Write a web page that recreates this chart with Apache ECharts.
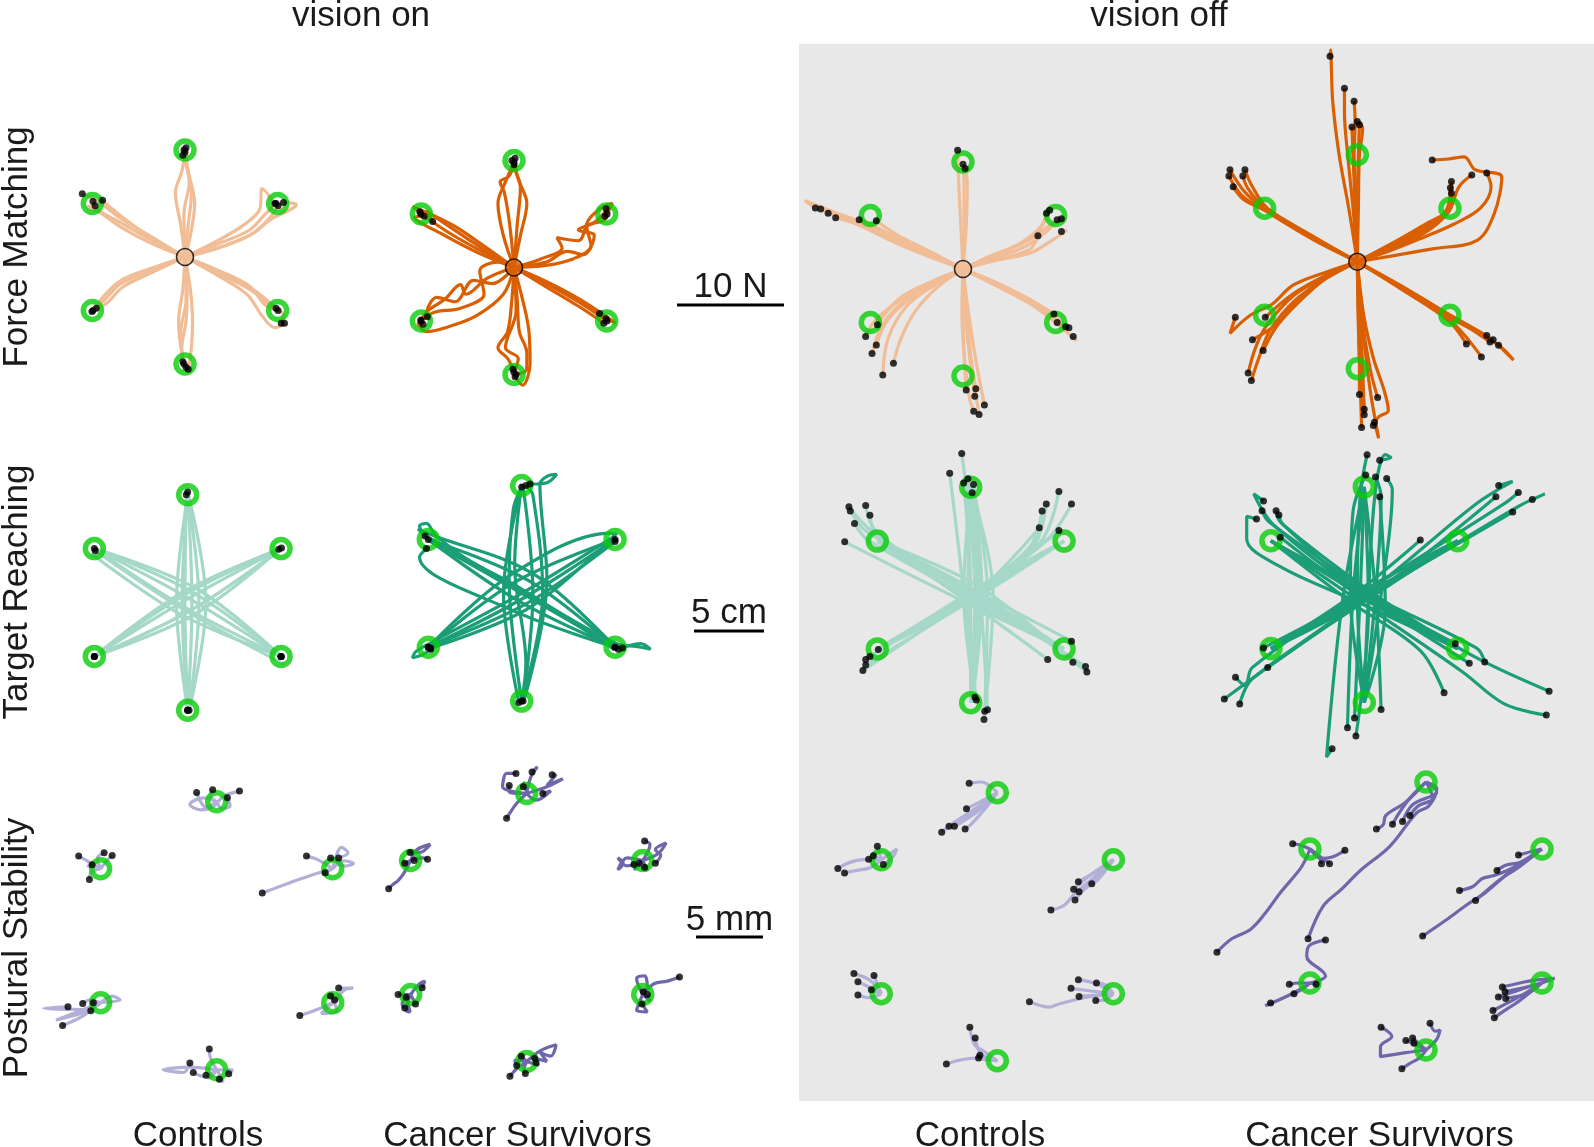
<!DOCTYPE html>
<html><head><meta charset="utf-8">
<script src="https://cdn.jsdelivr.net/npm/echarts@6/dist/echarts.min.js"></script>
<style>html,body{margin:0;padding:0;background:#fff}#c{width:1594px;height:1147px}</style>
</head><body><div id="c"></div>
<script>
// ---------- DATA ----------
const columnLabels = ['Controls', 'Cancer Survivors', 'Controls', 'Cancer Survivors'];
const headerLabels = ['vision on', 'vision off'];
const rowLabels = ['Force Matching', 'Target Reaching', 'Postural Stability'];
const scaleBars = [{len: 10, label: '10 N'}, {len: 5, label: '5 cm'}, {len: 5, label: '5 mm'}];

const forceTargets = [[0,10],[8.66,5],[8.66,-5],[0,-10],[-8.66,-5],[-8.66,5]];
const reachTargets = [[0,7.7],[6.67,3.85],[6.67,-3.85],[0,-7.7],[-6.67,-3.85],[-6.67,3.85]];
const postTargets  = [[0,10],[8.66,5],[8.66,-5],[0,-10],[-8.66,-5],[-8.66,5]];

// Force matching (N)
const forceCtrlOn = [
 [[0,0],[-0.4,3],[-0.9,6],[-0.3,8],[0,9.8]],
 [[0,0],[0.3,3],[0.6,6],[0.2,8.5],[0.1,10.2]],
 [[0,0],[-0.1,4],[0.4,7],[-0.2,9.5]],
 [[0,0],[0.5,2],[0.9,5],[0.3,8],[-0.1,10]],
 [[0,0],[3,1.2],[6,2.5],[7.5,4],[8.5,5]],
 [[0,0],[3,0.8],[6,2],[8,3.5],[10.4,4.9],[9.2,5.1]],
 [[0,0],[3,1.5],[5.5,3],[7,4.5],[7.2,6.4],[8.4,5]],
 [[0,0],[3.5,1],[6.5,2.3],[8.2,4],[8.7,4.8]],
 [[0,0],[3,-1.5],[6,-3],[8,-4.5],[8.7,-5]],
 [[0,0],[3,-1.2],[6,-2.7],[7.5,-4.5],[9.2,-5.4],[9,-6.2]],
 [[0,0],[3.2,-1.8],[5.8,-3.5],[7.2,-5.5],[8.4,-6.6],[9.3,-6.2]],
 [[0,0],[3,-1.4],[6.3,-3],[8.5,-4.8]],
 [[0,0],[0.2,-3],[0.1,-6],[-0.3,-8.5],[-0.1,-10]],
 [[0,0],[-0.2,-3],[-0.6,-6],[-0.3,-9],[0.1,-10.3]],
 [[0,0],[0.5,-3],[0.7,-6],[0.6,-8.5],[0.3,-10.5]],
 [[0,0],[0.1,-4],[-0.4,-7],[-0.2,-9.8]],
 [[0,0],[-3,-1.2],[-6,-2.5],[-7.5,-4],[-8.6,-5]],
 [[0,0],[-3,-1],[-6,-2.2],[-7.8,-3.9],[-8.3,-4.8]],
 [[0,0],[-3.2,-1.5],[-5.8,-2.8],[-7.3,-4.3],[-8.7,-5.1]],
 [[0,0],[-3,1.5],[-6,3.2],[-8.3,4.5],[-8.6,5.2]],
 [[0,0],[-3,1.8],[-6,3.6],[-8,5.1],[-9.6,5.9]],
 [[0,0],[-3,1.2],[-6,2.8],[-8,4.2],[-9.1,4.7],[-8.4,4.8]],
 [[0,0],[-3.5,2],[-6.2,4],[-7.4,5],[-7.7,5.3]]
];
const forceCsOn = [
 [[0,0],[-1,3],[-1.5,6],[-0.8,8],[0,9.8]],
 [[0,0],[0.6,3],[1.2,6],[0.5,8],[-0.2,10]],
 [[0,0],[-0.4,4],[-0.9,7],[-1.3,8],[-0.5,8.5],[0,9.6]],
 [[0,0],[0.3,4],[0.6,7.5],[0.2,9],[0.1,10.2]],
 [[0,0],[3,0.5],[5,1.5],[6.5,1.2],[7.5,3],[6,3.5],[7.5,4.2],[8.8,5.5],[8.5,4.8]],
 [[0,0],[2.5,0.8],[4.5,1.8],[4,2.8],[6,2.5],[7,4.5],[8.2,5.6],[9.2,6],[8.7,5]],
 [[0,0],[3,0.2],[5.5,0.8],[7.2,2],[6.8,3.8],[8.5,4.5],[8.6,5.5]],
 [[0,0],[3,-1.5],[6,-3.2],[8.7,-5]],
 [[0,0],[3,-1.3],[6.2,-3],[9.5,-5.2],[8.6,-4.8]],
 [[0,0],[3,-1.8],[6,-3.6],[8.4,-5.2]],
 [[0,0],[3.3,-1.5],[6.5,-3.3],[8,-4.3]],
 [[0,0],[0.3,-3],[0.5,-6],[1.2,-8],[1.2,-9.5],[0.2,-10]],
 [[0,0],[-0.2,-3],[-0.6,-6],[-1.5,-7.5],[-0.6,-8.5],[-0.1,-9.5]],
 [[0,0],[0.8,-3],[1.4,-6],[1.5,-9],[0.8,-11],[0.1,-10.2]],
 [[0,0],[0.2,-4],[-0.8,-7.5],[0.4,-8.5],[0,-9.8]],
 [[0,0],[-2.5,-1],[-4.5,-2.5],[-5,-1.6],[-6.5,-3],[-8,-4],[-8.7,-4.9]],
 [[0,0],[-2,-1.5],[-3.8,-1.2],[-5.5,-3.2],[-7.2,-2.8],[-8.2,-4.5],[-8.1,-4.6]],
 [[0,0],[-1,-2.5],[-3.5,-4.5],[-6,-5.5],[-8.2,-6],[-9,-5.2],[-8.5,-5.3]],
 [[0,0],[-1.5,0.5],[-3.2,-0.3],[-2.8,-2.5],[-5,-3.8],[-7.5,-4.2],[-8.7,-5]],
 [[0,0],[-3,1.5],[-6,3.2],[-8.7,5]],
 [[0,0],[-3,1.8],[-6,3.8],[-8.2,5.3],[-7.6,4.3]],
 [[0,0],[-3.2,1.3],[-6.5,3],[-9.3,4.7],[-8.4,4.8]],
 [[0,0],[-2.8,2],[-5.8,4],[-9.5,5.7],[-8.8,5.2]]
];
const forceCtrlOff = [
 [[0,0],[-3,1.3],[-6,2.6],[-9,4.2],[-12,5.3],[-14.8,6.4],[-13.8,5.7]],
 [[0,0],[-3,1.1],[-6,2.3],[-9.5,4],[-13.3,5.6]],
 [[0,0],[-3,1.4],[-6.2,2.8],[-9.2,4.3],[-12.6,5.2]],
 [[0,0],[-3,1.2],[-6,2.5],[-9,3.9],[-11.9,4.8]],
 [[0,0],[-3.2,1.5],[-6.3,3],[-8.5,4.1],[-9.7,4.6]],
 [[0,0],[-3,1.6],[-6,3.1],[-8.1,4.5]],
 [[0,0],[2.5,1.2],[5,2.2],[7,3.5],[8.1,5.5]],
 [[0,0],[3,1.1],[5.5,2.5],[7.3,4],[7.8,5.2]],
 [[0,0],[3,1],[6,2.2],[7.8,3.5],[8.8,4.6]],
 [[0,0],[3.2,0.9],[6.2,1.8],[7,3.1]],
 [[0,0],[3,0.8],[6.3,1.5],[8.5,2.8],[9.7,3.6],[9.2,3.5]],
 [[0,0],[3,1.3],[6,2.6],[8,4],[9.2,4.7]],
 [[0,0],[3,-1.2],[6,-2.7],[8.5,-4.2]],
 [[0,0],[3,-1.4],[6,-3],[8.8,-5]],
 [[0,0],[3,-1.5],[6.3,-3.2],[9.6,-5.4]],
 [[0,0],[3,-1.3],[6.5,-3],[9.9,-5.5]],
 [[0,0],[3.2,-1.6],[6.8,-3.6],[10.6,-6.7],[10.3,-6.3]],
 [[0,0],[0,-4],[0.1,-8],[0.3,-11.3]],
 [[0,0],[0.3,-4],[0.7,-8],[1.2,-11.2]],
 [[0,0],[0.2,-4],[0.6,-8],[1.1,-11.9]],
 [[0,0],[0.5,-4],[1.2,-8.5],[2,-12.7]],
 [[0,0],[-0.1,-4],[0.2,-9],[0.6,-12],[1,-13.3]],
 [[0,0],[0.4,-4],[0.8,-9],[1.5,-13.6]],
 [[0,0],[-3,-1.2],[-6,-2.8],[-8,-5.2]],
 [[0,0],[-3,-1.3],[-6,-3],[-8.2,-4.8],[-9.1,-6.3]],
 [[0,0],[-3,-1.5],[-5.5,-3.2],[-7.2,-5],[-8.1,-7.1]],
 [[0,0],[-2.8,-1.4],[-5.5,-3],[-7.5,-5.2],[-8.5,-7.9]],
 [[0,0],[-2.5,-1.8],[-4.5,-4],[-5.8,-6.5],[-6.5,-8.8]],
 [[0,0],[-2.8,-1.6],[-5.3,-3.5],[-7,-6.5],[-7.5,-9.9]],
 [[0,0],[-0.2,4],[-0.4,8],[-0.5,11.1]],
 [[0,0],[0.1,4],[0.1,8],[0,9.8]],
 [[0,0],[0.3,4],[0.4,8],[0.2,9.4]]
];
const forceCsOff = [
 [[0,0],[-0.8,5],[-1.7,10],[-2.3,15],[-2.5,19.8],[-2.55,19.2]],
 [[0,0],[-0.4,5],[-0.9,10],[-1.2,14],[-1.2,16.2]],
 [[0,0],[-0.1,5],[-0.3,10],[-0.2,13],[-0.3,15]],
 [[0,0],[0,5],[0.1,10],[0.2,12.8]],
 [[0,0],[-0.2,5],[-0.4,10],[-0.5,12.6]],
 [[0,0],[0.1,5],[0.2,10],[0.5,12.5],[0,13.1]],
 [[0,0],[-4,2.2],[-8.7,5],[-10.5,6.5],[-11.9,8.6]],
 [[0,0],[-4,2],[-8.5,4.7],[-10.8,6.2],[-12,8]],
 [[0,0],[-4,2.3],[-8.8,5.2],[-10.2,6.8],[-10.7,8]],
 [[0,0],[-4,2.1],[-8.4,5],[-9.8,7],[-10.5,8.6]],
 [[0,0],[-4,2.2],[-8.6,4.8],[-10.6,5.8],[-11.6,7]],
 [[0,0],[3,1.5],[6,3],[8.5,5],[8.8,7.5]],
 [[0,0],[3,1.3],[6,2.8],[8.3,4.8],[8.7,6.9]],
 [[0,0],[3,1.6],[6,3.3],[8.8,5.3],[8.8,6.4]],
 [[0,0],[3,1.2],[6,2.5],[8.5,4.6],[9.5,7],[10.7,8.1]],
 [[0,0],[3,1],[6,2.2],[9,3.5],[11.5,5],[12.5,7],[12.1,8.3]],
 [[0,0],[3,0.5],[7,1.2],[11.2,2],[12.8,4.5],[13.5,7.9],[11,8.6],[10,9.8],[8.5,9.6],[7,9.5]],
 [[0,0],[4,-2.3],[8.7,-5],[12.1,-6.9]],
 [[0,0],[4,-2.2],[8.8,-5.1],[12.4,-7.5]],
 [[0,0],[4,-2.4],[8.6,-5.2],[12.7,-7.3]],
 [[0,0],[4,-2.3],[9,-5.3],[13.2,-7.8],[14.6,-9.2],[13.2,-7.8]],
 [[0,0],[4,-2.5],[8.5,-5.5],[10.2,-7.7]],
 [[0,0],[4,-2.4],[8.8,-5.6],[11.6,-8.9]],
 [[0,0],[-3,-1],[-6,-2.2],[-8,-4],[-10,-5],[-11.9,-6.7],[-11.4,-5.2]],
 [[0,0],[-3,-1.3],[-6,-3],[-8.6,-5.2]],
 [[0,0],[-3,-1.5],[-5.5,-3.5],[-7.5,-5.8],[-9.8,-7.3]],
 [[0,0],[-3,-1.6],[-5.5,-3.8],[-7.5,-6],[-8.8,-8.3]],
 [[0,0],[-3,-1.4],[-6,-3.2],[-8.5,-6],[-9.5,-8],[-10.2,-10.4]],
 [[0,0],[-2.8,-1.5],[-5.8,-3.6],[-8.2,-6.5],[-9.2,-9],[-9.9,-11.1]],
 [[0,0],[0.1,-5],[0.2,-10],[0.2,-12.4]],
 [[0,0],[0.4,-5],[1.2,-10],[1.9,-12.7]],
 [[0,0],[0.2,-5],[0.4,-10],[0.65,-13.8]],
 [[0,0],[0.3,-5],[0.5,-10],[0.65,-14.3]],
 [[0,0],[0.1,-6],[0.3,-12],[0.4,-15.5]],
 [[0,0],[0.6,-5],[1.5,-9],[2.5,-12],[2.9,-13.9],[2,-14.5],[1.5,-15.3]],
 [[0,0],[0.5,-6],[1.2,-12],[2,-16.5],[1.6,-15]]
];

// Target reaching (cm)
const reachCtrlOn = [
 [[0,7.7],[-0.8,0],[0,-7.7]],
 [[0,7.7],[-0.4,0],[0,-7.7]],
 [[0,7.7],[0.3,0],[0,-7.7]],
 [[0,7.7],[0.8,0],[0.1,-7.7]],
 [[0.1,-7.7],[1.3,0],[0,7.9]],
 [[0,-7.9],[-0.2,0],[-0.1,7.7]],
 [[-6.67,3.85],[0.4,0.7],[6.67,-3.85]],
 [[-6.67,3.85],[0.15,0.26],[6.67,-3.85]],
 [[-6.67,3.85],[-0.2,-0.35],[6.67,-3.85]],
 [[-6.9,3.5],[-0.5,-0.85],[6.67,-3.85]],
 [[6.67,-3.85],[0.6,1.0],[-6.67,3.85]],
 [[6.9,-4.4],[-0.3,-0.5],[-6.6,3.7]],
 [[6.67,3.85],[-0.4,0.7],[-6.67,-3.85]],
 [[6.67,3.85],[-0.1,0.2],[-6.67,-3.85]],
 [[6.67,3.85],[0.3,-0.5],[-6.67,-3.85]],
 [[-6.67,-3.85],[0.5,-0.85],[6.7,3.9]],
 [[-6.67,-3.85],[-0.3,0.5],[6.5,3.8]]
];
const reachCsOn = [
 [[0,7.7],[-1.3,0],[-0.2,-7.8]],
 [[0.1,7.6],[0.8,0],[0.1,-7.7]],
 [[0,7.8],[-0.5,2],[0.3,-5],[0,-7.7]],
 [[0,-7.7],[1.5,0],[0.8,7],[0.3,7.7]],
 [[0,-7.7],[-0.9,1],[-0.6,6],[0,7.6]],
 [[0.2,-7.5],[1.8,1],[1.3,7.8],[1.9,8.4],[2.5,8.5],[1.8,7.9],[0.6,7.8]],
 [[-6.67,3.85],[0.5,0.9],[6.67,-3.85]],
 [[-6.67,3.85],[-0.3,-0.5],[6.67,-3.85]],
 [[-6.7,3.8],[0,0],[6.9,-4]],
 [[6.67,-3.85],[0.8,1.4],[-6.5,4.2],[-7.4,4.6],[-6.67,3.85]],
 [[6.67,-3.85],[-0.7,-1.2],[-7.3,2.6],[-6.8,3.2]],
 [[-6.5,3.9],[0.2,0.1],[6.8,-3.6],[8.2,-3.8],[9.2,-4],[8.5,-3.6],[7.2,-3.9]],
 [[6.67,3.85],[-0.5,0.8],[-6.67,-3.85]],
 [[6.67,3.85],[0.2,-0.3],[-6.67,-3.85]],
 [[6.8,4.3],[0.6,-1],[-6.5,-3.9]],
 [[-6.67,-3.85],[-0.8,1.3],[6.4,4.3],[6.67,3.85]],
 [[-6.67,-3.85],[0.4,-0.7],[6.67,3.7]],
 [[6.5,4],[0,0],[-6.8,-3.7],[-7.6,-4.2],[-7.8,-4.6],[-7.1,-4.4],[-6.5,-4]],
 [[6.6,-4],[0,0.3],[-4,2.5],[-6.2,4.2],[-6.8,5],[-7.3,4.8],[-6.9,4.1]]
];
const reachCtrlOff = [
 [[0,-7.7],[0.3,0],[-0.64,10.1]],
 [[0.2,-7.7],[-0.6,1],[-1.5,8.7]],
 [[0,-7.7],[0,0],[-0.5,8]],
 [[0,-7.6],[0.5,0],[-0.2,8.3]],
 [[0.1,-7.7],[0.8,0],[0.2,7.9]],
 [[0,-7.7],[0.6,0],[0.1,7.3]],
 [[0,7.7],[-0.5,0],[0.3,-7.3]],
 [[0,7.7],[-0.2,0],[0.4,-7.5]],
 [[0.2,7.7],[1.2,0],[1,-8.3]],
 [[0,7.7],[0.7,0],[1.2,-8.2]],
 [[0,7.7],[1.6,0],[0.95,-8.9]],
 [[6.67,-3.85],[0,0],[-7,4.5],[-8.7,6.3]],
 [[6.67,-3.85],[0.2,0.3],[-7.4,4.5],[-8.6,6]],
 [[6.67,-3.85],[-0.3,-0.2],[-6.8,4.6],[-7.5,6.4]],
 [[6.67,-3.85],[0.3,0.1],[-6.7,4.3],[-7.2,5.7]],
 [[6.67,-3.85],[0,-0.2],[-7.3,3.9],[-8.3,5.1]],
 [[6.67,-3.85],[-0.2,-0.6],[-9,3.8]],
 [[-6.67,3.85],[0.3,0.3],[7.2,-3.3]],
 [[-6.67,3.85],[-0.3,-0.4],[5.5,-4.6]],
 [[-6.67,3.85],[0.6,0.6],[7.3,-4.8]],
 [[-6.67,3.85],[0.2,-0.1],[8.2,-5.1]],
 [[-6.67,3.85],[0.5,0.2],[8.3,-5.5]],
 [[-6.67,-3.85],[0,0],[5,3.8],[6.3,7.4]],
 [[-6.67,-3.85],[0.2,0],[4.5,3.5],[5.4,6.5]],
 [[-6.67,-3.85],[0,0.2],[5.5,4],[7.2,6.5]],
 [[-6.67,-3.85],[-0.2,0],[4.2,3.4],[5.1,6]],
 [[-6.67,-3.85],[0,-0.2],[4.9,4.8]],
 [[-6.67,-3.85],[0.2,-0.1],[6.3,4.6]],
 [[6.67,3.85],[0.2,-0.3],[-6.6,-3.9]],
 [[6.67,3.85],[-0.2,0.1],[-7.2,-4.4]],
 [[6.67,3.85],[0,0],[-7.5,-4.6]],
 [[6.67,3.85],[0.3,-0.2],[-7.5,-5]],
 [[6.67,3.85],[-0.1,-0.3],[-7.7,-5.4]]
];
const reachCsOff = [
 [[0,-7.7],[-0.5,0],[-0.3,7],[0.2,10]],
 [[0,-7.7],[0.3,0],[0.8,7.5],[1.5,10],[1.9,9.8],[1.1,9.6]],
 [[0,-7.7],[-1,0],[-0.8,6],[0.1,8.55]],
 [[0,-7.7],[0.8,0],[1.2,7],[0.8,8.4]],
 [[0,-7.7],[1.2,0],[2,7.5],[1.6,8.3]],
 [[0,-7.7],[1.5,-1],[1.1,7]],
 [[0,7.7],[0.8,0],[1.2,-8.2]],
 [[0,7.7],[-0.3,0],[-0.7,-8.8]],
 [[0,7.7],[-0.8,0],[-1.2,-9.5]],
 [[0,7.7],[0.3,-1],[-0.6,-10.1]],
 [[0,7.7],[-1.5,0],[-2.7,-11.6],[-2.3,-11]],
 [[6.67,-3.85],[0,0],[-6.5,5],[-7.9,7.2],[-7.2,6.7]],
 [[6.67,-3.85],[0.3,0.2],[-6.8,5.2],[-7.3,6]],
 [[6.67,-3.85],[-0.2,0.2],[-6,5.2],[-6.3,6]],
 [[6.67,-3.85],[0.2,0.4],[-5.8,5],[-6.1,5.7]],
 [[6.67,-3.85],[-0.5,-0.5],[-6,2],[-8.4,4],[-8.4,5.6],[-7.7,5.4]],
 [[6.67,-3.85],[0,-0.3],[-6,4.1]],
 [[-6.67,3.85],[0,0],[6.5,-3.5]],
 [[-6.67,3.85],[0.2,-0.3],[7.5,-4.9]],
 [[-6.67,3.85],[-0.3,0.3],[8,-3.8],[8.6,-4.8]],
 [[-6.67,3.85],[-1,-0.5],[4,-4],[5.7,-7]],
 [[-6.67,3.85],[0.3,0],[8,-4.5],[13.2,-6.9]],
 [[-6.67,3.85],[-0.3,-0.5],[7,-5.5],[10,-7.8],[13,-8.6]],
 [[-6.67,-3.85],[0,0],[8,6.5],[10.6,8.1],[9.6,7.8]],
 [[-6.67,-3.85],[0.2,-0.2],[9.4,7]],
 [[-6.67,-3.85],[0,0.2],[10,6.5],[11,7.3]],
 [[-6.67,-3.85],[0.3,-0.1],[11,6.3],[12.9,7.2],[12,6.8]],
 [[-6.67,-3.85],[-0.2,-0.3],[10.6,5.9]],
 [[-6.67,-3.85],[-0.5,0.2],[4,3.9]],
 [[6.67,3.85],[0,0],[-7.2,-3.8]],
 [[6.67,3.85],[0.2,-0.3],[-6.9,-5.2]],
 [[6.67,3.85],[-0.2,0.2],[-8,-5.2],[-8.5,-6.5],[-9.2,-5.9]],
 [[6.67,3.85],[0,-0.3],[-10,-7.45]],
 [[6.67,3.85],[0.3,-0.3],[-8,-6],[-8.9,-7.8]]
];

// Postural stability (mm)
const postCtrlOn = [
 [[0,10],[-1,10.3],[-2,9.8],[-1.2,9.4],[-0.3,9.6],[0.5,10.4],[1.7,10.8]],
 [[0,10],[-0.5,10.5],[-0.3,10.9]],
 [[0,10],[-0.8,9.6],[-1.5,10.7]],
 [[0,10],[0.4,9.5],[1,9.7],[0.8,10.3]],
 [[-8.66,5],[-9.5,5.5],[-10.3,5.95]],
 [[-8.66,5],[-8.9,5.8],[-8.4,6.2]],
 [[-8.66,5],[-8.2,5.6],[-7.8,6]],
 [[-8.66,5],[-9.4,4.7],[-9.5,4.2]],
 [[-8.66,5],[-9.6,5.2],[-9.3,5.3]],
 [[8.66,5],[7,4.5],[5,3.8],[3.4,3.2]],
 [[8.66,5],[7.5,5.7],[6.7,5.95]],
 [[8.66,5],[9.5,5.6],[10.2,5.4],[9.6,5.2],[8.5,5.8]],
 [[8.66,5],[9.3,6.6],[9.8,6.2],[9.1,5.8]],
 [[8.66,5],[7.8,4.6],[8.1,4.7]],
 [[-8.66,-5],[-10,-5.5],[-12.9,-5.4],[-11.1,-5.3]],
 [[-8.66,-5],[-9.5,-4.8],[-10,-5.05]],
 [[-8.66,-5],[-10,-6],[-11.5,-6.7]],
 [[-8.66,-5],[-12,-6.3],[-10.5,-5.9],[-9.4,-5.6]],
 [[-8.66,-5],[-7.8,-4.5],[-7.2,-4.8],[-9.2,-5]],
 [[8.66,-5],[7.5,-5.5],[6.2,-5.95]],
 [[8.66,-5],[9.6,-4],[10.2,-3.9],[9.1,-3.9]],
 [[8.66,-5],[7.8,-5.8],[9,-5.6],[8.5,-4.5]],
 [[8.66,-5],[9.3,-4.5],[8.8,-4.8]],
 [[0,-10],[-0.5,-9],[-0.55,-8.45]],
 [[0,-10],[-2,-9.8],[-4,-10],[-2.5,-10.2],[-2,-9.5]],
 [[0,-10],[-1,-10.5],[-1.75,-10.2]],
 [[0,-10],[-0.6,-10.6],[-0.8,-10.4]],
 [[0,-10],[0.5,-10.9],[0.2,-10.7]],
 [[0,-10],[1.2,-10],[0.9,-10.3]]
];
const postCsOn = [
 [[0,10],[-0.8,9.2],[-1.5,8.15]],
 [[0,10],[-1.8,10.5],[-1.5,11.5],[-0.8,11.5]],
 [[0,10],[0.3,11.2],[0.8,12],[0.4,11.6]],
 [[0,10],[1.5,10.5],[2.7,11.1],[1.5,10.6],[2.2,11.4],[1.9,11.4]],
 [[0,10],[-1.3,10.1],[-1.3,10.6]],
 [[0,10],[0.7,9.5],[1.8,10.2],[1.2,10]],
 [[0,10],[-0.2,10.8],[-0.25,10.5]],
 [[-8.66,5],[-9.2,4],[-9.6,3.5],[-10,3.2],[-10.3,2.9]],
 [[-8.66,5],[-8.2,5.8],[-7.2,6.2],[-8,5.6],[-8.7,5.6]],
 [[-8.66,5],[-9.1,4.8]],
 [[-8.66,5],[-7.8,5.2],[-7.4,5.1]],
 [[-8.66,5],[-8.4,5.3],[-8.4,5]],
 [[8.66,5],[9.2,6.2],[8.8,6.45]],
 [[8.66,5],[7.5,5.2],[6.8,4.3],[7.2,4.8],[6.8,5.2],[7.5,4.6],[8,4.7]],
 [[8.66,5],[9.8,5.5],[10.4,6.3],[9.6,5.8],[10,5.4],[9.6,4.8]],
 [[8.66,5],[8,4.3],[8.4,4.8]],
 [[8.66,5],[9,4.2],[8.8,4.5]],
 [[-8.66,-5],[-9.6,-5]],
 [[-8.66,-5],[-9.3,-5.7],[-9.1,-6]],
 [[-8.66,-5],[-8,-4.2],[-7.6,-4],[-7.8,-4.5]],
 [[-8.66,-5],[-8.3,-5.7]],
 [[-8.66,-5],[-9,-6.2],[-8.7,-6.3],[-9,-5.2]],
 [[8.66,-5],[9.5,-4.2],[10.5,-4],[11.4,-3.7]],
 [[8.66,-5],[8.2,-3.8],[8.8,-3.6],[9,-4.5],[8.7,-4.8]],
 [[8.66,-5],[9.2,-5.5],[9,-5]],
 [[8.66,-5],[8.2,-6.2],[9,-6.3],[8.6,-5.7]],
 [[0,-10],[1,-9.2],[2.2,-8.75],[1.8,-9.6],[1,-9.3],[1.5,-10],[0.6,-9.75]],
 [[0,-10],[-0.8,-10.6],[-1.25,-11.1]],
 [[0,-10],[-0.4,-9.6]],
 [[0,-10],[-0.9,-9.9],[-0.75,-10.3]],
 [[0,-10],[0.9,-10.3],[0.7,-10.1]],
 [[0,-10],[-0.2,-10.6],[-0.1,-10.9]]
];
const postCtrlOff = [
 [[0,10],[-1.2,10.8],[-2.1,10.7]],
 [[0,10],[-1.5,9.2],[-2.3,8.8]],
 [[0,10],[-1.8,8.5],[-3,7.8],[-3.6,7.5]],
 [[0,10],[-1.2,8.8],[-2.5,7.9],[-3.2,7.5]],
 [[0,10],[-1.5,8.9],[-3.2,7.8],[-4.15,7.05]],
 [[0,10],[-1,8.7],[-2,7.6],[-2.4,7.3]],
 [[-8.66,5],[-8.8,5.5],[-8.95,6]],
 [[-8.66,5],[-9.25,5.3]],
 [[-8.66,5],[-9.6,5.03]],
 [[-8.66,5],[-7.5,5.8],[-7.8,5.2],[-8.5,4.65]],
 [[-8.66,5],[-10,5],[-11,4.8],[-11.9,4.35]],
 [[-8.66,5],[-9.5,4.4],[-10.5,4.2],[-11.4,4]],
 [[8.66,5],[7.5,4.2],[6.05,3.35]],
 [[8.66,5],[7,3.9],[5.7,2.8]],
 [[8.66,5],[7.3,3.6],[6.1,2.6]],
 [[8.66,5],[7.8,4],[7.05,3.2]],
 [[8.66,5],[7.5,3.5],[6.5,2.8],[5.8,2]],
 [[8.66,5],[7,3.5],[5.8,2.5],[5,1.6],[4,1.25]],
 [[-8.66,-5],[-9.5,-4],[-10.7,-3.5]],
 [[-8.66,-5],[-9.6,-4.5],[-10.4,-4.1]],
 [[-8.66,-5],[-9,-4.2],[-9.2,-3.65]],
 [[-8.66,-5],[-9.4,-4.7]],
 [[-8.66,-5],[-9.6,-5.3],[-10.4,-5.1]],
 [[8.66,-5],[7.5,-4.3],[6.05,-3.95]],
 [[8.66,-5],[8,-4.3],[7.4,-4.2]],
 [[8.66,-5],[7,-4.8],[5.5,-4.6]],
 [[8.66,-5],[7.5,-5.1],[6.1,-5.2]],
 [[8.66,-5],[7.8,-5.5],[7.35,-5.5]],
 [[8.66,-5],[6.5,-5.3],[4.5,-5.8],[3.9,-6],[2.4,-5.6]],
 [[0,-10],[-1,-9.3],[-1.7,-8.8],[-2.05,-7.5]],
 [[0,-10],[-1.2,-9.5],[-1.65,-8.3]],
 [[0,-10],[-1.3,-9.6]],
 [[0,-10],[-1,-9.9],[-1.4,-9.8]],
 [[0,-10],[-1.5,-9.8],[-3,-10],[-3.8,-10.25]]
];
const postCsOff = [
 [[0,10],[-1.5,8.5],[-3,7.5],[-3.2,6.8],[-3.7,6.5]],
 [[0,10],[-1.2,8.8],[-2,7.7],[-2.5,6.85]],
 [[0,10],[0.8,9.3],[-1,8.3],[-1.75,7.05]],
 [[0,10],[0.5,8.8],[-0.6,8.2],[-1.2,7.5]],
 [[0,10],[0.8,9.5],[0.2,8.2],[-0.7,7.7],[-2.7,5.2],[-4.9,3.4],[-6.3,2],[-7.7,0.7],[-8.8,-1.7]],
 [[-8.65,5],[-9.4,5.3],[-9.95,5.4]],
 [[-8.65,5],[-7.8,4.3],[-7,4.4],[-6.05,4.9]],
 [[-8.65,5],[-8,4.4],[-7.8,3.9]],
 [[-8.65,5],[-7.6,4.2],[-7.2,3.9]],
 [[-8.65,5],[-9,4.2],[-9.4,3.5],[-10.9,1.7],[-12,0.2],[-13.1,-1],[-14.5,-1.7],[-15.6,-2.7]],
 [[8.63,5],[7.8,4.8],[6.9,4.55]],
 [[8.63,5],[7,4],[6,3.8],[5.3,3.4]],
 [[8.63,5],[6.5,3.6],[5,3],[4.2,2.8],[3.5,2.2],[2.5,1.9]],
 [[8.63,5],[7,3.7],[5.5,2.7],[3.7,1.15]],
 [[8.63,5],[6.5,3.5],[4.5,1.8],[3,0.8],[1.5,-0.3],[-0.25,-1.5]],
 [[-8.65,-5],[-7.5,-4.5],[-7.65,-4.2],[-8.9,-3],[-8.7,-2.2],[-7.5,-1.8]],
 [[-8.65,-5],[-9.5,-5],[-10.2,-5.1]],
 [[-8.65,-5],[-9.3,-5.5],[-9.85,-5.8]],
 [[-8.65,-5],[-10,-5.8],[-12,-6.7],[-11.6,-6.5]],
 [[-8.65,-5],[-8.2,-5.1]],
 [[8.63,-5],[9.6,-4.65],[8,-4.8],[7,-5],[5.7,-5.3]],
 [[8.63,-5],[7.5,-5.3],[5.9,-5.65]],
 [[8.63,-5],[7,-5.5],[5.4,-6.05]],
 [[8.63,-5],[7.5,-5.8],[5.95,-6.15]],
 [[8.63,-5],[7,-6],[5,-7.05]],
 [[8.63,-5],[7,-6.3],[5.5,-7.3],[5.1,-7.6]],
 [[0,-10],[-1.5,-10.2],[-3.4,-10.5],[-3.4,-9.75],[-2.55,-9],[-3.35,-8.3]],
 [[0,-10],[0.8,-9.2],[1.05,-8.5],[0.7,-8.6],[0.3,-8]],
 [[0,-10],[-0.7,-9.6],[-1.5,-9.3]],
 [[0,-10],[-1,-9.1]],
 [[0,-10],[-0.9,-9.5]],
 [[0,-10],[-0.5,-10.6],[-1.2,-11],[-1.8,-11.4]]
];

// ---------- STYLE / LAYOUT ----------
const W = 1594, H = 1147;
const FONT = "'Liberation Sans', Arial, sans-serif";
const COL = {
  forceLight: '#f1bd96', forceDark: '#d95f02',
  reachLight: '#a5d8c8', reachDark: '#1b9e77',
  postLight: '#b3b0d8', postDark: '#6e68ab',
  ring: '#08cc08', gray: '#e8e8e8'
};
const PPU = {force: 10.7, reach: 14, post: 13.4};

const panels = [
  {traj: forceCtrlOn,  targets: forceTargets, color: COL.forceLight, ppu: PPU.force, cx: 185,    cy: 257,   center: true},
  {traj: forceCsOn,    targets: forceTargets, color: COL.forceDark,  ppu: PPU.force, cx: 514,    cy: 267.5, center: true},
  {traj: forceCtrlOff, targets: forceTargets, color: COL.forceLight, ppu: PPU.force, cx: 963,    cy: 269,   center: true},
  {traj: forceCsOff,   targets: forceTargets, color: COL.forceDark,  ppu: PPU.force, cx: 1357.3, cy: 261.7, center: true},
  {traj: reachCtrlOn,  targets: reachTargets, color: COL.reachLight, ppu: PPU.reach, cx: 187.7,  cy: 602.5},
  {traj: reachCsOn,    targets: reachTargets, color: COL.reachDark,  ppu: PPU.reach, cx: 521.7,  cy: 593.3},
  {traj: reachCtrlOff, targets: reachTargets, color: COL.reachLight, ppu: PPU.reach, cx: 970.7,  cy: 595},
  {traj: reachCsOff,   targets: reachTargets, color: COL.reachDark,  ppu: PPU.reach, cx: 1364.3, cy: 594.7},
  {traj: postCtrlOn,   targets: postTargets,  color: COL.postLight,  ppu: PPU.post,  cx: 216.7,  cy: 935.8},
  {traj: postCsOn,     targets: postTargets,  color: COL.postDark,   ppu: PPU.post,  cx: 526.7,  cy: 927.5},
  {traj: postCtrlOff,  targets: postTargets,  color: COL.postLight,  ppu: PPU.post,  cx: 997.3,  cy: 926.7},
  {traj: postCsOff,    targets: postTargets,  color: COL.postDark,   ppu: PPU.post,  cx: 1426,   cy: 916}
];
const scaleBarPos = [
  {left: 677, y: 305, ppu: PPU.force, ty: 287.5},
  {left: 694, y: 631, ppu: PPU.reach, ty: 613.5},
  {left: 696, y: 937, ppu: PPU.post,  ty: 920}
];

const grid = [], xAxis = [], yAxis = [], series = [];
panels.forEach((p, i) => {
  // each panel's grid spans the whole canvas; axis ranges put the panel origin at (cx, cy)
  grid.push({left: 0, top: 0, width: W, height: H});
  xAxis.push({type: 'value', gridIndex: i, min: -p.cx / p.ppu, max: (W - p.cx) / p.ppu, show: false});
  yAxis.push({type: 'value', gridIndex: i, min: -(H - p.cy) / p.ppu, max: p.cy / p.ppu, show: false});
  p.traj.forEach(t => series.push({
    type: 'line', xAxisIndex: i, yAxisIndex: i, data: t, symbol: 'none', smooth: 0.35,
    lineStyle: {color: p.color, width: 3.2}, z: 2, silent: true, clip: false
  }));
  series.push({type: 'scatter', xAxisIndex: i, yAxisIndex: i, data: p.targets, symbol: 'circle', symbolSize: 18,
    itemStyle: {color: 'rgba(0,0,0,0)', borderColor: COL.ring, borderWidth: 5.5}, z: 3, silent: true, clip: false});
  if (p.center) series.push({type: 'scatter', xAxisIndex: i, yAxisIndex: i, data: [[0, 0]], symbolSize: 17,
    itemStyle: {color: p.color, borderColor: '#000', borderWidth: 1.6}, z: 4, silent: true, clip: false});
  series.push({type: 'scatter', xAxisIndex: i, yAxisIndex: i, data: p.traj.map(t => t[t.length - 1]),
    symbolSize: 7, itemStyle: {color: '#000'}, z: 5, silent: true, clip: false});
});
scaleBars.forEach((s, k) => {
  const pos = scaleBarPos[k], gi = grid.length;
  grid.push({left: pos.left, top: pos.y - 10, width: s.len * pos.ppu, height: 20});
  xAxis.push({type: 'value', gridIndex: gi, min: 0, max: s.len, show: false});
  yAxis.push({type: 'value', gridIndex: gi, min: -1, max: 1, show: false});
  series.push({type: 'line', xAxisIndex: gi, yAxisIndex: gi, data: [[0, 0], [s.len, 0]], symbol: 'none',
    lineStyle: {color: '#000', width: 3}, z: 2, silent: true, clip: false});
});

const txt = (x, y, text, rot) => ({type: 'text', x, y, rotation: rot || 0, z: 100, silent: true,
  style: {text, fill: '#1a1a1a', font: '35px ' + FONT, textAlign: 'center', textVerticalAlign: 'middle'}});
const graphic = [
  {type: 'rect', shape: {x: 799, y: 43.7, width: 795, height: 1057.3}, style: {fill: COL.gray}, z: -10, silent: true},
  txt(361, 16.5, headerLabels[0]), txt(1159, 16.5, headerLabels[1]),
  txt(17, 247, rowLabels[0], Math.PI / 2), txt(17, 592, rowLabels[1], Math.PI / 2), txt(17, 948, rowLabels[2], Math.PI / 2),
  txt(198, 1136, columnLabels[0]), txt(517.5, 1136, columnLabels[1]), txt(980, 1136, columnLabels[2]), txt(1379.5, 1136, columnLabels[3])
];
scaleBars.forEach((s, k) => {
  const pos = scaleBarPos[k];
  graphic.push(txt(pos.left + s.len * pos.ppu / 2, pos.ty, s.label));
});

const chart = echarts.init(document.getElementById('c'), null, {renderer: 'canvas'});
chart.setOption({animation: false, backgroundColor: '#fff', grid, xAxis, yAxis, series, graphic});
</script></body></html>
